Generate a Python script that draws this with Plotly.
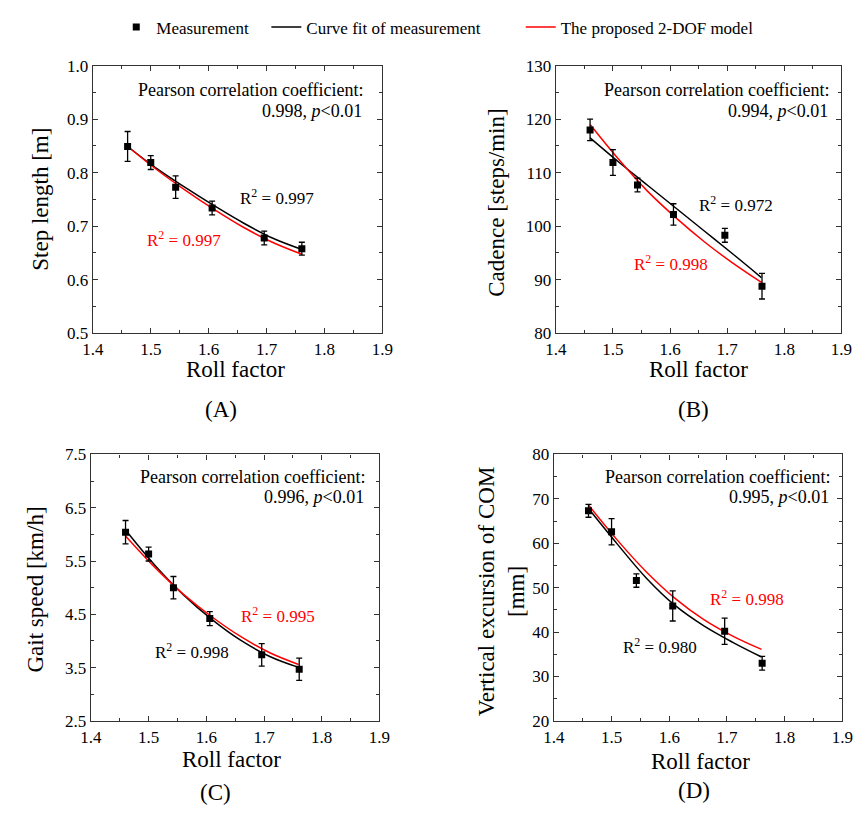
import plotly.graph_objects as go

# Roll factor of the six walking conditions
roll_factor = [1.460, 1.500, 1.543, 1.606, 1.696, 1.761]

# Measured gait parameters (mean and error)
step_length = [0.849, 0.819, 0.773, 0.734, 0.678, 0.658]
step_length_err = [0.028, 0.013, 0.021, 0.013, 0.013, 0.012]
cadence = [118.0, 111.9, 107.7, 102.2, 98.3, 88.8]
cadence_err = [2.0, 2.4, 1.3, 2.0, 1.3, 2.4]
gait_speed = [6.04, 5.63, 5.00, 4.42, 3.74, 3.47]
gait_speed_err = [0.22, 0.13, 0.21, 0.13, 0.21, 0.21]
com_excursion = [67.3, 62.6, 51.6, 45.9, 40.2, 33.0]
com_excursion_err = [1.45, 2.95, 1.5, 3.4, 2.95, 1.55]

# Curves: fit of measurement and the 2-DOF model
curve_x = [1.46, 1.51, 1.56, 1.61, 1.66, 1.71, 1.76]
step_length_fit = [0.849, 0.808, 0.772, 0.738, 0.706, 0.678, 0.657]
step_length_model = [0.849, 0.806, 0.767, 0.731, 0.698, 0.670, 0.648]
cadence_fit = [116.5, 112.0, 107.7, 103.4, 99.1, 94.8, 90.4]
cadence_model = [119.0, 112.5, 106.6, 101.6, 97.1, 93.1, 89.5]
gait_speed_fit = [6.08, 5.43, 4.87, 4.40, 4.01, 3.71, 3.505]
gait_speed_model = [5.97, 5.39, 4.88, 4.45, 4.08, 3.78, 3.56]
com_fit = [67.8, 59.8, 52.2, 46.0, 41.4, 37.7, 34.4]
com_model = [68.6, 60.7, 53.6, 47.6, 42.8, 39.1, 36.1]

pearson = ["0.998", "0.994", "0.996", "0.995"]
r2_fit = ["0.997", "0.972", "0.998", "0.980"]
r2_model = ["0.997", "0.998", "0.995", "0.998"]
panel_labels = ["(A)", "(B)", "(C)", "(D)"]
y_titles = ["Step length [m]", "Cadence [steps/min]", "Gait speed [km/h]",
            "Vertical excursion of COM<br>[mm]"]
y_ranges = [(0.5, 1.0), (80, 130), (2.5, 7.5), (20, 80)]
y_dticks = [0.1, 10, 1.0, 10]
y_tickformats = [".1f", "d", ".1f", "d"]

W, H = 867, 814
FONT = "Liberation Serif, Times New Roman, serif"

# Plot-area boxes in pixels: (left, right, top, bottom)
boxes = [(84, 381, 58, 332), (559, 852, 58, 332),
         (82, 378, 456, 729), (557, 853, 456, 729)]


def px(x):
    return x / W


def py(y):
    return 1 - y / H


panels = [
    (step_length, step_length_err, step_length_fit, step_length_model),
    (cadence, cadence_err, cadence_fit, cadence_model),
    (gait_speed, gait_speed_err, gait_speed_fit, gait_speed_model),
    (com_excursion, com_excursion_err, com_fit, com_model),
]

fig = go.Figure()

for i, (vals, errs, fit, model) in enumerate(panels):
    ax = "" if i == 0 else str(i + 1)
    xa, ya = "x" + ax, "y" + ax
    first = i == 0
    fig.add_trace(go.Scatter(
        x=curve_x, y=fit, mode="lines", xaxis=xa, yaxis=ya,
        line=dict(color="black", width=1.5, shape="spline"),
        name="Curve fit of measurement", showlegend=first, legend="legend2"))
    fig.add_trace(go.Scatter(
        x=curve_x, y=model, mode="lines", xaxis=xa, yaxis=ya,
        line=dict(color="#ff0000", width=1.5, shape="spline"),
        name="The proposed 2-DOF model", showlegend=first, legend="legend3"))
    fig.add_trace(go.Scatter(
        x=roll_factor, y=vals, mode="markers", xaxis=xa, yaxis=ya,
        marker=dict(symbol="square", size=7, color="black"),
        error_y=dict(type="data", array=errs, visible=True,
                     color="black", thickness=1.3, width=3),
        name="Measurement", showlegend=first, legend="legend"))

axis_common = dict(
    showline=True, linecolor="#333", linewidth=1.3, mirror="ticks",
    ticks="inside", ticklen=5, tickwidth=1, tickcolor="#333",
    showgrid=False, zeroline=False,
    tickfont=dict(family=FONT, size=17, color="black"),
)

layout = dict(
    width=W, height=H, margin=dict(l=0, r=0, t=0, b=0),
    paper_bgcolor="white", plot_bgcolor="white",
    font=dict(family=FONT, color="black"),
)

for i, (l, r, t, b) in enumerate(boxes):
    ax = "" if i == 0 else str(i + 1)
    layout["xaxis" + ax] = dict(
        axis_common, domain=[px(l), px(r)], range=[1.4, 1.9],
        dtick=0.1, tick0=1.4, tickformat=".1f",
        anchor="y" + ax,
        minor=dict(dtick=0.05, ticks="inside", ticklen=3, tickcolor="#333"),
    )
    layout["yaxis" + ax] = dict(
        axis_common, domain=[py(b), py(t)], range=list(y_ranges[i]),
        dtick=y_dticks[i], tick0=y_ranges[i][0], tickformat=y_tickformats[i],
        anchor="x" + ax,
        minor=dict(dtick=y_dticks[i] / 2, ticks="inside", ticklen=3,
                   tickcolor="#333"),
    )

legend_style = dict(orientation="h", yanchor="middle", xanchor="left",
                    bgcolor="rgba(0,0,0,0)",
                    font=dict(family=FONT, size=17, color="black"))
layout["legend"] = dict(legend_style, x=px(108), y=py(19))
layout["legend2"] = dict(legend_style, x=px(262), y=py(19))
layout["legend3"] = dict(legend_style, x=px(523), y=py(19))

annotations = []

# Pearson text (right aligned) and R^2 labels
pearson_right = [364, 842, 366, 843]
pearson_y = [(83, 104), (83, 104), (479, 500), (479, 500)]
fit_pos = [(273, 193), (744, 200), (186, 657), (666, 652)]
model_pos = [(177, 235), (677, 260), (274, 620), (755, 603)]

for i in range(4):
    annotations.append(dict(
        x=px(pearson_right[i]), y=py(pearson_y[i][0]), xref="paper", yref="paper",
        text="Pearson correlation coefficient:", showarrow=False,
        xanchor="right", yanchor="middle",
        font=dict(family=FONT, size=18, color="black")))
    annotations.append(dict(
        x=px(pearson_right[i] - 2), y=py(pearson_y[i][1]), xref="paper", yref="paper",
        text=pearson[i] + ", <i>p</i>&lt;0.01", showarrow=False,
        xanchor="right", yanchor="middle",
        font=dict(family=FONT, size=18, color="black")))
    annotations.append(dict(
        x=px(fit_pos[i][0]), y=py(fit_pos[i][1]), xref="paper", yref="paper",
        text="R<sup>2</sup> = " + r2_fit[i], showarrow=False,
        xanchor="center", yanchor="middle",
        font=dict(family=FONT, size=17, color="black")))
    annotations.append(dict(
        x=px(model_pos[i][0]), y=py(model_pos[i][1]), xref="paper", yref="paper",
        text="R<sup>2</sup> = " + r2_model[i], showarrow=False,
        xanchor="center", yanchor="middle",
        font=dict(family=FONT, size=17, color="#ff0000")))

# Axis titles and panel labels
xtitle_pos = [(230, 369), (705, 369), (226, 768), (707, 770)]
label_pos = [(215, 410), (700, 410), (210, 802), (701, 800)]
ytitle_pos = [(30, 195), (498, 198), (25, 594), (503, 596)]

for i in range(4):
    annotations.append(dict(
        x=px(xtitle_pos[i][0]), y=py(xtitle_pos[i][1]), xref="paper", yref="paper",
        text="Roll factor", showarrow=False, xanchor="center", yanchor="middle",
        font=dict(family=FONT, size=23, color="black")))
    annotations.append(dict(
        x=px(label_pos[i][0]), y=py(label_pos[i][1]), xref="paper", yref="paper",
        text=panel_labels[i], showarrow=False, xanchor="center", yanchor="middle",
        font=dict(family=FONT, size=23, color="black")))
    annotations.append(dict(
        x=px(ytitle_pos[i][0]), y=py(ytitle_pos[i][1]), xref="paper", yref="paper",
        text=y_titles[i], showarrow=False, textangle=-90,
        xanchor="center", yanchor="middle",
        font=dict(family=FONT, size=23, color="black")))

layout["annotations"] = annotations
fig.update_layout(**layout)

fig.write_html("out.html")
